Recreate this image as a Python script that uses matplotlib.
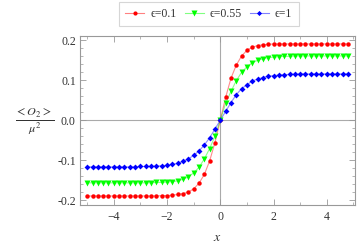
import numpy as np
import matplotlib
matplotlib.use("Agg")
import matplotlib.pyplot as plt
from matplotlib.ticker import MultipleLocator, FormatStrFormatter

plt.rcParams['font.family'] = ['Liberation Serif', 'DejaVu Serif']
plt.rcParams['mathtext.fontset'] = 'stix'

# x grid (-5 .. 4.8, step 0.2)
x_vals = [-5.0, -4.8, -4.6, -4.4, -4.2, -4.0, -3.8, -3.6, -3.4, -3.2,
          -3.0, -2.8, -2.6, -2.4, -2.2, -2.0, -1.8, -1.6, -1.4, -1.2,
          -1.0, -0.8, -0.6, -0.4, -0.2, 0.0, 0.2, 0.4, 0.6, 0.8,
          1.0, 1.2, 1.4, 1.6, 1.8, 2.0, 2.2, 2.4, 2.6, 2.8,
          3.0, 3.2, 3.4, 3.6, 3.8, 4.0, 4.2, 4.4, 4.6, 4.8]

eps_01 = [-0.190, -0.190, -0.190, -0.190, -0.190, -0.190, -0.190, -0.190, -0.190, -0.190,
          -0.190, -0.190, -0.190, -0.190, -0.189, -0.189, -0.188, -0.186, -0.184, -0.180,
          -0.172, -0.158, -0.136, -0.102, -0.056, 0.000, 0.057, 0.105, 0.138, 0.161,
          0.175, 0.183, 0.187, 0.189, 0.190, 0.191, 0.191, 0.191, 0.191, 0.191,
          0.191, 0.191, 0.191, 0.191, 0.191, 0.191, 0.191, 0.191, 0.191, 0.191]

eps_055 = [-0.157, -0.157, -0.157, -0.157, -0.157, -0.157, -0.157, -0.157, -0.157, -0.157,
           -0.157, -0.157, -0.157, -0.156, -0.156, -0.155, -0.154, -0.152, -0.148, -0.142,
           -0.132, -0.118, -0.097, -0.071, -0.040, 0.000, 0.042, 0.072, 0.099, 0.120,
           0.134, 0.144, 0.150, 0.154, 0.157, 0.158, 0.159, 0.160, 0.160, 0.161,
           0.161, 0.161, 0.161, 0.161, 0.161, 0.161, 0.161, 0.161, 0.161, 0.161]

eps_1 = [-0.117, -0.117, -0.117, -0.117, -0.117, -0.117, -0.117, -0.117, -0.117, -0.117,
         -0.116, -0.116, -0.116, -0.115, -0.114, -0.113, -0.111, -0.108, -0.103, -0.097,
         -0.088, -0.077, -0.062, -0.044, -0.022, 0.000, 0.022, 0.044, 0.064, 0.079,
         0.089, 0.098, 0.103, 0.107, 0.110, 0.112, 0.113, 0.114, 0.115, 0.115,
         0.116, 0.116, 0.116, 0.116, 0.116, 0.116, 0.116, 0.116, 0.116, 0.116]

labels = ['ϵ=0.1', 'ϵ=0.55', 'ϵ=1']

fig = plt.figure(figsize=(3.57, 2.49), dpi=100)
ax = fig.add_axes([80 / 357, 1 - 205 / 249, 275 / 357, 169 / 249])

# axes through origin
ax.axhline(0, color='#aaaaaa', lw=0.8, zorder=1)
ax.axvline(0, color='#aaaaaa', lw=0.8, zorder=1)

ax.plot(x_vals, eps_01, color='red', lw=0.8, alpha=0.45, zorder=2)
ax.plot(x_vals, eps_01, 'o', color='red', ms=3.2, mec='none', zorder=3)
ax.plot(x_vals, eps_055, color='#00ff00', lw=0.8, alpha=0.45, zorder=2)
ax.plot(x_vals, eps_055, 'v', color='#00ff00', ms=4.2, mec='none', zorder=3)
ax.plot(x_vals, eps_1, color='blue', lw=0.8, alpha=0.45, zorder=2)
ax.plot(x_vals, eps_1, 'D', color='blue', ms=3.0, mec='none', zorder=3)

# legend proxies
h1, = ax.plot([], [], color='#ff8080', lw=0.8, marker='o', mfc='red', mec='none', ms=3)
h2, = ax.plot([], [], color='#80ff80', lw=0.8, marker='v', mfc='#00ff00', mec='none', ms=4)
h3, = ax.plot([], [], color='#8080ff', lw=0.8, marker='D', mfc='blue', mec='none', ms=2.6)
leg = fig.legend([h1, h2, h3], labels, loc='upper left', bbox_to_anchor=(119 / 357, 1 - 1.5 / 249),
                 ncol=3, frameon=True, fancybox=False, fontsize=8.5, handlelength=1.6,
                 columnspacing=0.7, handletextpad=0.5, borderpad=0.55, borderaxespad=0)
leg.get_frame().set_edgecolor('#cccccc')
leg.get_frame().set_linewidth(0.8)
for t in leg.get_texts():
    t.set_color('#333333')

ax.set_xlim(-5.27, 5.06)
ax.set_ylim(-0.2125, 0.211)

ax.xaxis.set_major_locator(MultipleLocator(2))
ax.xaxis.set_minor_locator(MultipleLocator(1))
ax.yaxis.set_major_locator(MultipleLocator(0.1))
ax.yaxis.set_minor_locator(MultipleLocator(0.02))
ax.yaxis.set_major_formatter(FormatStrFormatter('%.1f'))

ax.tick_params(which='both', direction='in', top=True, right=True,
               color='#999999', labelsize=8.5, labelcolor='#333333')
ax.tick_params(which='major', length=4, width=0.6)
ax.tick_params(which='minor', length=2, width=0.5)
ax.tick_params(axis='x', pad=4)
ax.tick_params(axis='y', pad=3)

for sp in ax.spines.values():
    sp.set_color('#999999')
    sp.set_linewidth(0.8)

ax.set_xlabel(r'$x$', fontsize=10, color='#333333', labelpad=6)
fig.text(35 / 357, 1 - 121 / 249, r'$\frac{<O_2>}{\mu^2}$', fontsize=12.5,
         ha='center', va='center', color='#333333')

fig.savefig('out.png', dpi=100)
